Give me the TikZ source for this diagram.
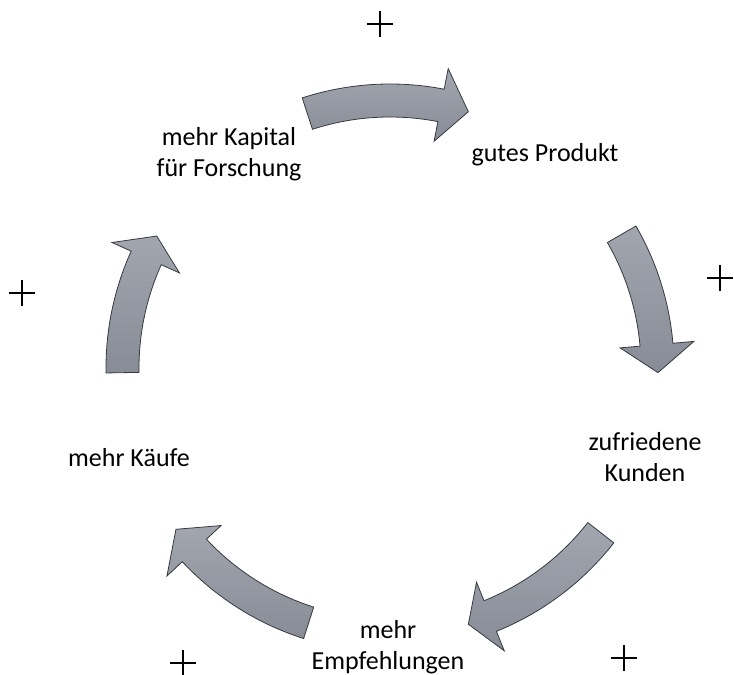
\documentclass[tikz,border=0pt]{standalone}
\usepackage{fontspec}
\setmainfont{Carlito}
\definecolor{arrTop}{RGB}{162,166,175}
\definecolor{arrBot}{RGB}{136,140,150}
\definecolor{arrLine}{RGB}{55,57,62}
\tikzset{
  lbl/.style={align=center, inner sep=0pt, font=\fontsize{26}{31}\selectfont},
  blockarrow/.style={top color=arrTop, bottom color=arrBot, draw=arrLine, line width=0.8pt, line join=miter},
  plusline/.style={line width=2.2pt, black}
}
% #1 tail angle, #2 head base angle, #3 tip angle
\newcommand{\ringarrow}[3]{%
  \path[blockarrow] (#1:284) arc[start angle=#1, end angle=#2, radius=284pt]
     -- (#2:305) -- (#3:268) -- (#2:231) -- (#2:251)
     arc[start angle=#2, end angle=#1, radius=251pt] -- cycle;}
\newcommand{\plussign}[2]{%
  \draw[plusline] (#1-13,-#2) -- (#1+13,-#2);
  \draw[plusline] (#1,-#2-13) -- (#1,-#2+13);}
\begin{document}
\begin{tikzpicture}[x=1pt,y=1pt]
\useasboundingbox (0,0) rectangle (734,-675);
\begin{scope}[shift={(390,-368)}, x=1pt, y=1pt]
  \ringarrow{108}{79}{73}
  \ringarrow{30}{5}{-1}
  \ringarrow{-38}{-68}{-73}
  \ringarrow{-107.7}{-137}{-143}
  \ringarrow{181}{155.7}{150.5}
\end{scope}
\node[lbl] (kapital) at (229,-154) {mehr Kapital\\für Forschung};
\node[lbl] (produkt) at (545,-155) {gutes Produkt};
\node[lbl] (kunden) at (645,-457) {zufriedene\\Kunden};
\node[lbl] (empf) at (388,-647) {mehr\\Empfehlungen};
\node[lbl] (kaeufe) at (129,-458) {mehr Käufe};
\plussign{380}{24}
\plussign{720}{278}
\plussign{22}{293}
\plussign{183}{663}
\plussign{624}{658}
\end{tikzpicture}
\end{document}
